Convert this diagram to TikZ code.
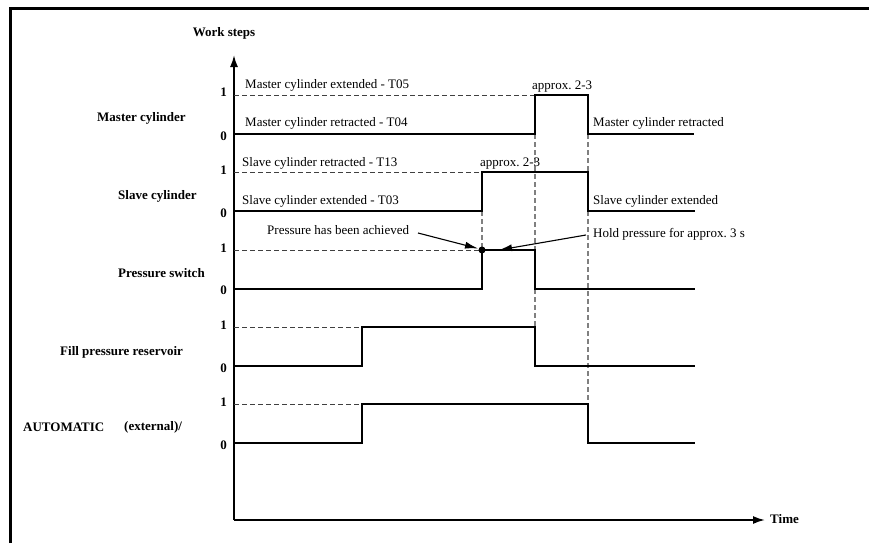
\documentclass[tikz,border=0pt]{standalone}
\usepackage{fontspec}
\setmainfont{Liberation Serif}
\usetikzlibrary{arrows.meta}
\begin{document}
\begin{tikzpicture}[x=1pt,y=-1pt,
  sig/.style={line width=2pt, line join=miter},
  href/.style={line width=1pt, dash pattern=on 5pt off 3pt, black!75},
  vref/.style={line width=1.1pt, dash pattern=on 5pt off 3pt, black!50},
  lab/.style={font=\fontsize{13}{15}\selectfont, inner sep=0pt, anchor=west},
  ch/.style={font=\bfseries\fontsize{13}{15}\selectfont, inner sep=0pt, anchor=west},
  num/.style={font=\bfseries\fontsize{13}{15}\selectfont, inner sep=0pt, anchor=east},
  ax/.style={line width=1.8pt, -{Latex[length=12pt,width=8pt]}},
  pt/.style={-{Latex[length=13pt,width=7pt]}, line width=1.1pt}
]
\useasboundingbox (0,0) rectangle (869,543);
\draw[line width=3pt] (10,543) -- (10,9) -- (869,9);

% axes
\coordinate (O) at (234,520);
\coordinate (Ytop) at (234,55);
\coordinate (Xend) at (765,520);
\draw[ax] (O) -- (Ytop);
\draw[ax] (O) -- (Xend);
\node[font=\bfseries\fontsize{13}{15}\selectfont, inner sep=0pt] (ws) at (224,33) {Work steps};
\node[ch] (time) at (770,519) {Time};

% channel labels
\node[ch] (lm) at (97,118) {Master cylinder};
\node[ch] (ls) at (118,196) {Slave cylinder};
\node[ch] (lp) at (118,273) {Pressure switch};
\node[ch] (lf) at (60,352) {Fill pressure reservoir};
\node[ch] (la) at (23,427) {AUTOMATIC};
\node[ch] (la2) at (124,427) {(external)/};

% level numbers
\foreach \y/\t [count=\i] in {92/1,136/0,170/1,213/0,248/1,290/0,325/1,368/0,402/1,445/0}
  \node[num] (n\i) at (227,\y) {\t};

% reference dashed lines
\draw[href] (234,95) -- (535,95);
\draw[href] (234,172) -- (482,172);
\draw[href] (234,250) -- (482,250);
\draw[href] (234,327) -- (362,327);
\draw[href] (234,404) -- (362,404);
\draw[vref] (535,134) -- (535,250);
\draw[vref] (535,289) -- (535,327);
\draw[vref] (588,134) -- (588,172);
\draw[vref] (588,211) -- (588,404);
\draw[vref] (482,211) -- (482,250);

% signals
\draw[sig] (234,134) -- (535,134) -- (535,95) -- (588,95) -- (588,134) -- (694,134);
\draw[sig] (234,211) -- (482,211) -- (482,172) -- (588,172) -- (588,211) -- (695,211);
\draw[sig] (234,289) -- (482,289) -- (482,250) -- (535,250) -- (535,289) -- (695,289);
\draw[sig] (234,366) -- (362,366) -- (362,327) -- (535,327) -- (535,366) -- (695,366);
\draw[sig] (234,443) -- (362,443) -- (362,404) -- (588,404) -- (588,443) -- (695,443);

% texts
\node[lab] (t1) at (245,85) {Master cylinder extended - T05};
\node[lab] (t2) at (245,123) {Master cylinder retracted - T04};
\node[lab] (t3) at (242,163) {Slave cylinder retracted - T13};
\node[lab] (t4) at (242,201) {Slave cylinder extended - T03};
\node[lab] (t5) at (532,87) {approx.\ 2-3};
\node[lab] (t6) at (480,164) {approx.\ 2-3};
\node[lab] (t7) at (593,123) {Master cylinder retracted};
\node[lab] (t8) at (593,201) {Slave cylinder extended};
\node[lab] (t9) at (267,230) {Pressure has been achieved};
\node[lab] (t10) at (593,234) {Hold pressure for approx.\ 3 s};

% annotation
\coordinate (dot) at (482,250);
\fill (dot) circle (3.5pt);
\coordinate (holdtip) at (499,250);
\coordinate (a1) at (418,233);
\coordinate (a2) at (586,235);
\draw[pt] (a1) -- (478,248.5);
\draw[pt] (a2) -- (holdtip);
\end{tikzpicture}
\end{document}
